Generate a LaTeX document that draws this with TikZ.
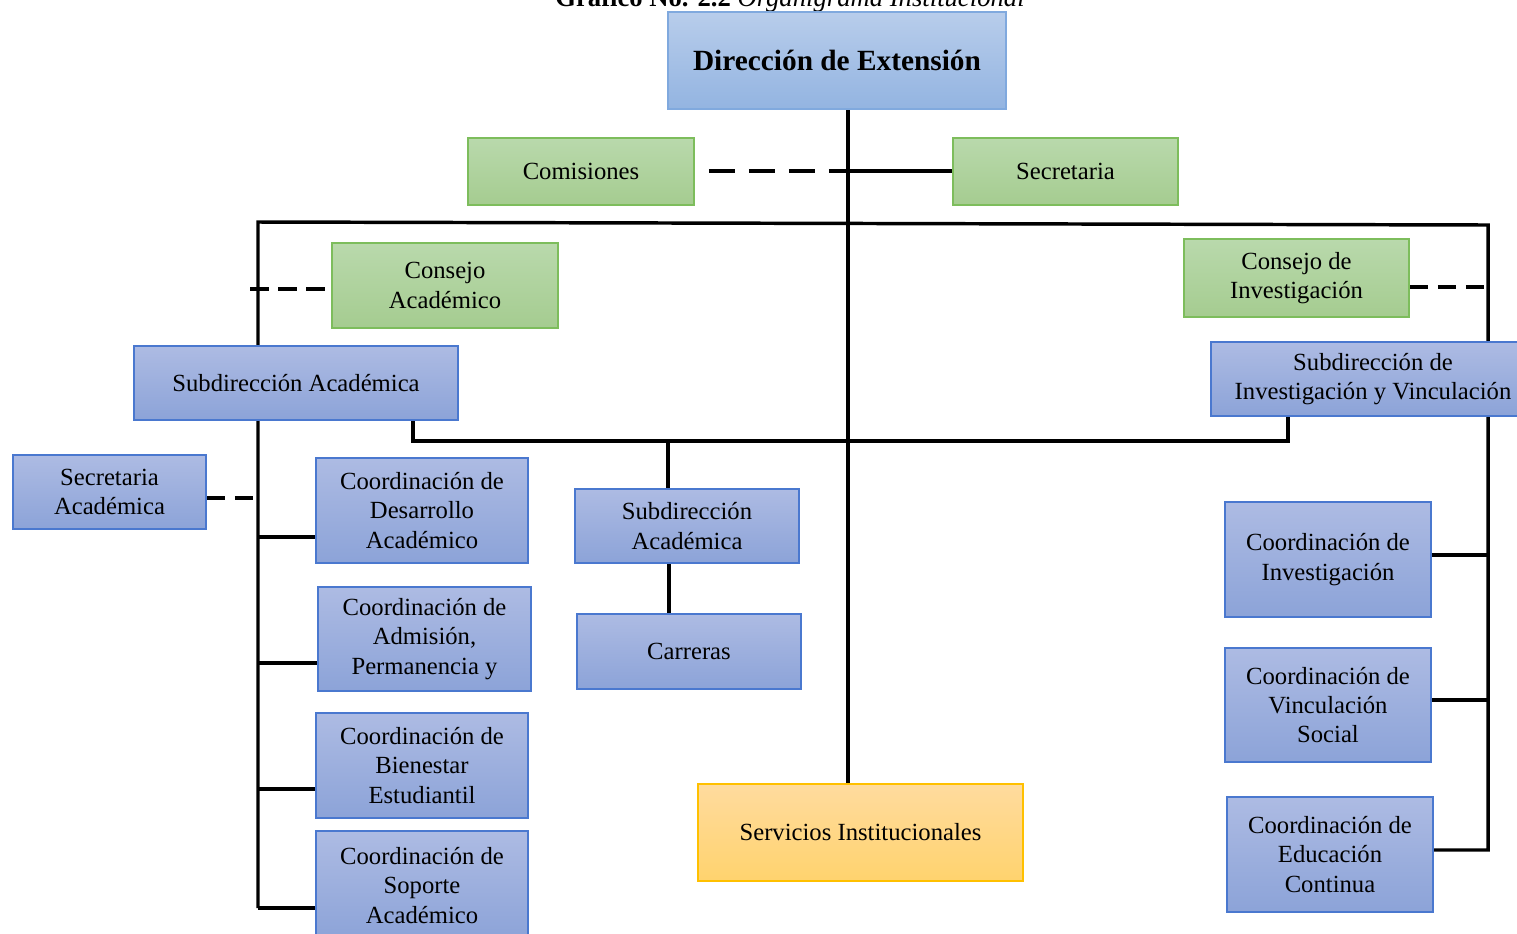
\documentclass[tikz,border=0pt]{standalone}
\usepackage{fontspec}
\setmainfont{Liberation Serif}
\usetikzlibrary{backgrounds}
\definecolor{bdT}{HTML}{B8CDEB}\definecolor{bdB}{HTML}{93B4E1}\definecolor{bdD}{HTML}{80A9DE}
\definecolor{gT}{HTML}{B9D9AC}\definecolor{gB}{HTML}{A5CC90}\definecolor{gD}{HTML}{7DBD5C}
\definecolor{sT}{HTML}{ADBBE3}\definecolor{sB}{HTML}{8CA3D8}\definecolor{sD}{HTML}{4A78CF}
\definecolor{oT}{HTML}{FFDB9E}\definecolor{oB}{HTML}{FFD36E}\definecolor{oD}{HTML}{FFC000}
\newcommand\bx[7]{\node[#6, minimum width={(#4-#2)*0.75pt}, minimum height={(#5-#3)*0.75pt}] (#1) at ({(#2+#4)/2},{(#3+#5)/2}) {#7};}
\tikzset{
  base/.style={draw, align=center, inner sep=0pt, line width=1.2pt, font=\fontsize{18.5}{22}\selectfont},
  topbox/.style={base, top color=bdT, bottom color=bdB, draw=bdD, font=\fontsize{22}{26}\selectfont\bfseries},
  gbox/.style={base, top color=gT, bottom color=gB, draw=gD},
  sbox/.style={base, top color=sT, bottom color=sB, draw=sD},
  obox/.style={base, top color=oT, bottom color=oB, draw=oD},
  ln/.style={line width=2.6pt, black},
  dsh/.style={line width=2.6pt, black, dash pattern=on 20pt off 10pt},
  dshs/.style={line width=2.6pt, black, dash pattern=on 14pt off 7pt},
}
\begin{document}
\begin{tikzpicture}[x=0.75pt, y=-0.75pt]
\useasboundingbox (0,0) rectangle (1517,933);
\clip (0,0) rectangle (1517,933);
\node[anchor=base, inner sep=0pt, font=\fontsize{20}{24}\selectfont] (title) at (790,6) {\textbf{Gráfico No. 2.2} \textit{Organigrama Institucional}};
\bx{dir}{668}{12}{1006}{109}{topbox}{Dirección de Extensión}
\bx{com}{468}{138}{694}{205}{gbox}{Comisiones}
\bx{sec}{953}{138}{1178}{205}{gbox}{Secretaria}
\bx{cac}{332}{243}{558}{328}{gbox}{Consejo\\Académico}
\bx{cin}{1184}{239}{1409}{317}{gbox}{Consejo de\\Investigación}
\bx{lsub}{134}{346}{458}{420}{sbox}{Subdirección Académica}
\bx{rsub}{1211}{342}{1535}{416}{sbox}{Subdirección de\\Investigación y Vinculación}
\bx{sac}{13}{455}{206}{529}{sbox}{Secretaria\\Académica}
\bx{des}{316}{458}{528}{563}{sbox}{Coordinación de\\Desarrollo\\Académico}
\bx{adm}{318}{587}{531}{691}{sbox}{Coordinación de\\Admisión,\\Permanencia y}
\bx{bie}{316}{713}{528}{818}{sbox}{Coordinación de\\Bienestar\\Estudiantil}
\bx{sop}{316}{831}{528}{940}{sbox}{Coordinación de\\Soporte\\Académico}
\bx{msub}{575}{489}{799}{563}{sbox}{Subdirección\\Académica}
\bx{car}{577}{614}{801}{689}{sbox}{Carreras}
\bx{serv}{698}{784}{1023}{881}{obox}{Servicios Institucionales}
\bx{cinv}{1225}{502}{1431}{617}{sbox}{Coordinación de\\Investigación}
\bx{cvin}{1225}{648}{1431}{762}{sbox}{Coordinación de\\Vinculación\\Social}
\bx{cedu}{1227}{797}{1433}{912}{sbox}{Coordinación de\\Educación\\Continua}
\coordinate (M) at (848,171);
\coordinate (L) at (258,222);
\coordinate (R) at (1488,225);
\coordinate (J) at (668,441);
\begin{pgfonlayer}{background}
\draw[ln] (dir.south -| M) -- (serv.north -| M);
\draw[ln] (M) -- (sec.west |- M);
\draw[dsh] ([xshift=10.5pt]com.east |- M) -- (M);
\draw[ln] (L |- 0,908) -- (L) -- (R) -- (R |- 0,850) -- (cedu.east |- 0,850);
\draw[ln] (L |- 0,908) -- (sop.west |- 0,908);
\draw[ln] (L |- 0,537) -- (des.west |- 0,537);
\draw[ln] (L |- 0,663) -- (adm.west |- 0,663);
\draw[ln] (L |- 0,789) -- (bie.west |- 0,789);
\draw[ln] (R |- 0,555) -- (cinv.east |- 0,555);
\draw[ln] (R |- 0,700) -- (cvin.east |- 0,700);
\draw[dshs] (250,289) -- (cac.west |- 0,289);
\draw[dshs] (sac.east |- 0,498) -- (L |- 0,498);
\draw[dshs] (cin.east |- 0,287) -- (R |- 0,287);
\draw[ln] (lsub.south -| 413,0) -- (413,441) -- (1288,441) -- (rsub.south -| 1288,0);
\draw[ln] (J) -- (msub.north -| J);
\draw[ln] (msub.south -| 669,0) -- (car.north -| 669,0);
\end{pgfonlayer}
\end{tikzpicture}
\end{document}
